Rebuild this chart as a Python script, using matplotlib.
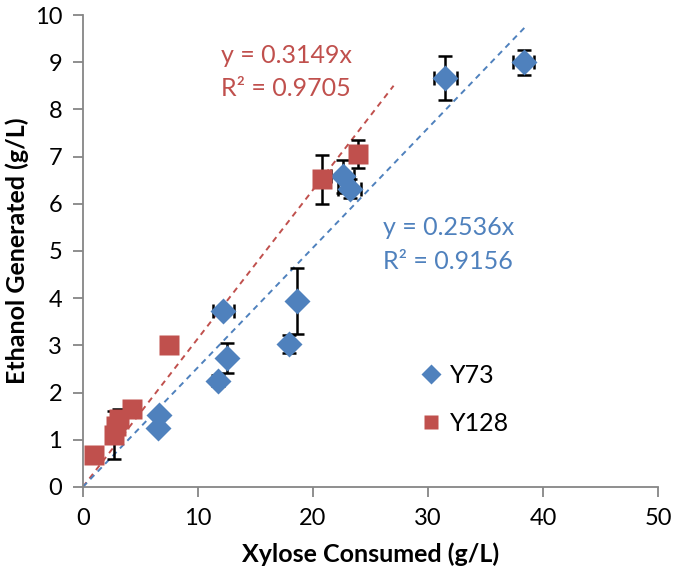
import matplotlib.pyplot as plt

plt.rcParams['font.family'] = ['Lato', 'DejaVu Sans']

# Y73 strain
y73_x = [6.5, 6.6, 11.7, 12.5, 12.2, 17.9, 18.6, 22.6, 23.2, 31.5, 38.3]
y73_y = [1.25, 1.52, 2.25, 2.73, 3.72, 3.03, 3.95, 6.58, 6.32, 8.67, 9.0]
y73_xerr = [0.0, 0.0, 0.0, 0.0, 0.9, 0.0, 0.3, 1.0, 1.0, 1.0, 0.9]
y73_yerr = [0.0, 0.0, 0.12, 0.32, 0.05, 0.2, 0.7, 0.35, 0.2, 0.47, 0.27]

# Y128 strain
y128_x = [1.0, 2.7, 2.9, 3.1, 4.3, 7.5, 20.8, 23.9]
y128_y = [0.68, 1.1, 1.3, 1.45, 1.65, 3.0, 6.52, 7.05]
y128_xerr = [0.0, 0.0, 0.0, 0.0, 0.0, 0.0, 0.0, 0.0]
y128_yerr = [0.0, 0.5, 0.0, 0.2, 0.0, 0.0, 0.52, 0.3]

# linear fits through origin
slope_y73, r2_y73, xmax_y73 = 0.2536, 0.9156, 38.5
slope_y128, r2_y128, xmax_y128 = 0.3149, 0.9705, 27.0

blue = '#4F81BD'
red = '#C0504D'

fig = plt.figure(figsize=(6.85, 5.79), dpi=100)
ax = fig.add_axes([0.121, 0.159, 0.84, 0.815])

ax.plot([0, xmax_y128], [0, slope_y128 * xmax_y128], ls=(0, (3, 2.5)), color=red, lw=1.4)
ax.plot([0, xmax_y73], [0, slope_y73 * xmax_y73], ls=(0, (3, 2.5)), color=blue, lw=1.4)

ax.errorbar(y73_x, y73_y, xerr=y73_xerr, yerr=y73_yerr, fmt='none', ecolor='black',
            elinewidth=1.8, capsize=5, capthick=1.8, zorder=3)
ax.errorbar(y128_x, y128_y, xerr=y128_xerr, yerr=y128_yerr, fmt='none', ecolor='black',
            elinewidth=1.8, capsize=5, capthick=1.8, zorder=3)
ax.plot(y73_x, y73_y, 'D', color=blue, ms=13, mec='none', zorder=4, label='Y73')
ax.plot(y128_x, y128_y, 's', color=red, ms=14, mec='none', zorder=4, label='Y128')

ax.text(12, 9.15, 'y = %.4fx' % slope_y128, color=red, fontsize=18, va='center')
ax.text(12, 8.45, 'R² = %.4f' % r2_y128, color=red, fontsize=18, va='center')
ax.text(26.1, 5.5, 'y = %.4fx' % slope_y73, color=blue, fontsize=18, va='center')
ax.text(26.1, 4.78, 'R² = %.4f' % r2_y73, color=blue, fontsize=18, va='center')

ax.set_xlim(0, 50)
ax.set_ylim(0, 10)
ax.set_xticks(range(0, 51, 10))
ax.set_yticks(range(0, 11))
ax.set_xlabel('Xylose Consumed (g/L)', fontsize=18, fontweight='bold', labelpad=10)
ax.set_ylabel('Ethanol Generated (g/L)', fontsize=18, fontweight='bold', labelpad=4)

for side in ['top', 'right']:
    ax.spines[side].set_visible(False)
for side in ['left', 'bottom']:
    ax.spines[side].set_color('#868686')
    ax.spines[side].set_linewidth(1.3)
ax.tick_params(colors='#868686', labelcolor='black', labelsize=17, length=7, width=1.3, pad=8)

ax.legend(loc='center left', bbox_to_anchor=(0.54, 0.186), frameon=False, fontsize=18,
          handletextpad=0.15, labelspacing=1.0, markerscale=0.75, handlelength=1.2)

fig.savefig('out.png', dpi=100)
